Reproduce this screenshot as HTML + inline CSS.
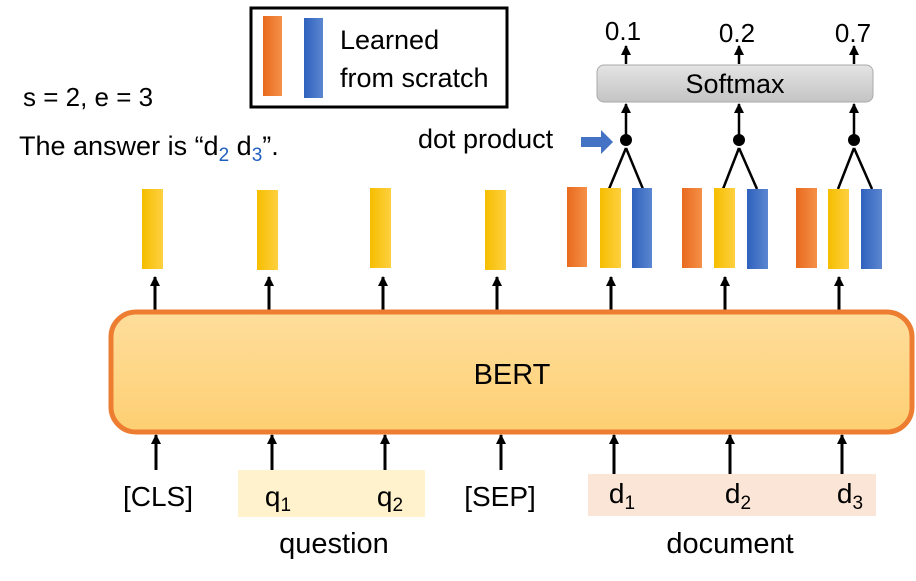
<!DOCTYPE html>
<html><head><meta charset="utf-8"><style>
html,body{margin:0;padding:0;background:#fff;}
svg{display:block;font-family:"Liberation Sans",sans-serif;}
</style></head><body>
<svg width="916" height="581" viewBox="0 0 916 581" xmlns="http://www.w3.org/2000/svg">
<defs>
<linearGradient id="yl" x1="0" x2="1"><stop offset="0" stop-color="#F5BE00"/><stop offset="1" stop-color="#FFD040"/></linearGradient>
<linearGradient id="or" x1="0" x2="1"><stop offset="0" stop-color="#E86A1E"/><stop offset="1" stop-color="#F59048"/></linearGradient>
<linearGradient id="bl" x1="0" x2="1"><stop offset="0" stop-color="#2F62BE"/><stop offset="1" stop-color="#5B86D0"/></linearGradient>
<linearGradient id="bert" x1="0" y1="0" x2="0" y2="1"><stop offset="0" stop-color="#FEDE9C"/><stop offset="1" stop-color="#FECF72"/></linearGradient>
<linearGradient id="sm" x1="0" y1="0" x2="0" y2="1"><stop offset="0" stop-color="#E4E4E4"/><stop offset="1" stop-color="#C4C4C4"/></linearGradient>
<marker id="ah" viewBox="0 0 10 10" refX="9" refY="5" markerWidth="10" markerHeight="10" markerUnits="userSpaceOnUse" orient="auto"><path d="M0,0 L10,5 L0,10 Z" fill="#000"/></marker>
</defs>

<!-- legend -->
<rect x="251" y="8" width="256" height="99" fill="#fff" stroke="#000" stroke-width="3"/>
<rect x="263" y="16" width="19" height="80" fill="url(#or)"/>
<rect x="304" y="18" width="19" height="80" fill="url(#bl)"/>
<text x="340" y="49" font-size="27">Learned</text>
<text x="340" y="87" font-size="27">from scratch</text>

<text x="23" y="106" font-size="26">s = 2, e = 3</text>
<text x="19" y="155" font-size="27">The answer is “d<tspan font-size="19" dy="6" fill="#1F5FBF">2</tspan><tspan dy="-6"> d</tspan><tspan font-size="19" dy="6" fill="#1F5FBF">3</tspan><tspan dy="-6">”.</tspan></text>

<!-- softmax -->
<rect x="597" y="65" width="276" height="37" rx="7" fill="url(#sm)" stroke="#AAA" stroke-width="1"/>
<text x="735" y="93" font-size="27" text-anchor="middle">Softmax</text>
<g font-size="26" text-anchor="middle">
<text x="623" y="40">0.1</text><text x="737" y="42">0.2</text><text x="853" y="42">0.7</text>
</g>
<g stroke="#000" stroke-width="2.5">
<line x1="626" y1="64" x2="626" y2="46" marker-end="url(#ah)"/>
<line x1="739" y1="64" x2="739" y2="46" marker-end="url(#ah)"/>
<line x1="854" y1="64" x2="854" y2="46" marker-end="url(#ah)"/>
<line x1="626" y1="136" x2="626" y2="104" marker-end="url(#ah)"/>
<line x1="739" y1="136" x2="739" y2="104" marker-end="url(#ah)"/>
<line x1="854" y1="136" x2="854" y2="104" marker-end="url(#ah)"/>
<line x1="609" y1="189" x2="626" y2="148"/><line x1="643" y1="189" x2="626" y2="148"/>
<line x1="723" y1="189" x2="739" y2="148"/><line x1="757" y1="189" x2="739" y2="148"/>
<line x1="838" y1="189" x2="854" y2="148"/><line x1="872" y1="189" x2="854" y2="148"/>
</g>
<circle cx="626" cy="140" r="6" fill="#000"/>
<circle cx="739" cy="140" r="6" fill="#000"/>
<circle cx="854" cy="140" r="6" fill="#000"/>
<text x="418" y="148" font-size="27">dot product</text>
<path d="M581,137 h20 v-7 l12,12 l-12,12 v-7 h-20 z" fill="#4472C4"/>

<!-- bars -->
<g>
<rect x="142" y="189" width="21" height="80" fill="url(#yl)"/>
<rect x="257" y="190" width="21" height="80" fill="url(#yl)"/>
<rect x="370" y="188" width="21" height="80" fill="url(#yl)"/>
<rect x="485" y="190" width="21" height="80" fill="url(#yl)"/>
<rect x="567" y="187" width="20" height="80" fill="url(#or)"/>
<rect x="600" y="188" width="21" height="80" fill="url(#yl)"/>
<rect x="632" y="188" width="20" height="80" fill="url(#bl)"/>
<rect x="682" y="188" width="20" height="80" fill="url(#or)"/>
<rect x="714" y="188" width="21" height="80" fill="url(#yl)"/>
<rect x="747" y="189" width="21" height="80" fill="url(#bl)"/>
<rect x="796" y="188" width="21" height="80" fill="url(#or)"/>
<rect x="828" y="189" width="21" height="80" fill="url(#yl)"/>
<rect x="861" y="189" width="21" height="80" fill="url(#bl)"/>
</g>

<!-- arrows BERT -> bars -->
<g stroke="#000" stroke-width="3">
<line x1="155" y1="312" x2="155" y2="277" marker-end="url(#ah)"/>
<line x1="269" y1="312" x2="269" y2="277" marker-end="url(#ah)"/>
<line x1="383" y1="312" x2="383" y2="277" marker-end="url(#ah)"/>
<line x1="497" y1="312" x2="497" y2="277" marker-end="url(#ah)"/>
<line x1="611" y1="312" x2="611" y2="277" marker-end="url(#ah)"/>
<line x1="725" y1="312" x2="725" y2="277" marker-end="url(#ah)"/>
<line x1="839" y1="312" x2="839" y2="277" marker-end="url(#ah)"/>
</g>

<!-- BERT -->
<rect x="111" y="312" width="801" height="120" rx="25" fill="url(#bert)" stroke="#ED7D31" stroke-width="5"/>
<text x="512" y="384" font-size="29" text-anchor="middle">BERT</text>

<!-- highlights -->
<rect x="238" y="470" width="187" height="47" fill="#FFF2CC"/>
<rect x="588" y="474" width="288" height="42" fill="#FBE5D6"/>

<g stroke="#000" stroke-width="3">
<line x1="156" y1="470" x2="156" y2="435" marker-end="url(#ah)"/>
<line x1="272" y1="470" x2="272" y2="435" marker-end="url(#ah)"/>
<line x1="385" y1="470" x2="385" y2="435" marker-end="url(#ah)"/>
<line x1="501" y1="470" x2="501" y2="435" marker-end="url(#ah)"/>
<line x1="614" y1="474" x2="614" y2="435" marker-end="url(#ah)"/>
<line x1="730" y1="474" x2="730" y2="435" marker-end="url(#ah)"/>
<line x1="842" y1="474" x2="842" y2="435" marker-end="url(#ah)"/>
</g>

<g font-size="28" text-anchor="middle">
<text x="158" y="506">[CLS]</text>
<text x="278" y="506">q<tspan font-size="19" dy="5">1</tspan></text>
<text x="390" y="506">q<tspan font-size="19" dy="5">2</tspan></text>
<text x="500" y="506">[SEP]</text>
<text x="622" y="503">d<tspan font-size="19" dy="6">1</tspan></text>
<text x="738" y="503">d<tspan font-size="19" dy="6">2</tspan></text>
<text x="850" y="503">d<tspan font-size="19" dy="6">3</tspan></text>
</g>
<g font-size="29" text-anchor="middle">
<text x="334" y="553">question</text>
<text x="730" y="553">document</text>
</g>
</svg>
</body></html>
